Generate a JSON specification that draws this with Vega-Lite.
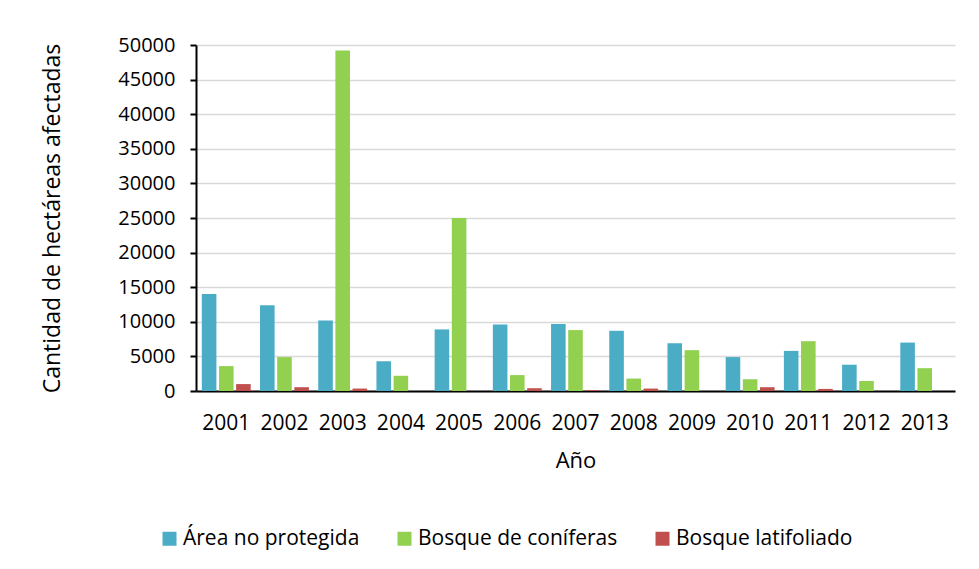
{
  "$schema": "https://vega.github.io/schema/vega-lite/v6.json",
  "autosize": {"type": "none"},
  "padding": {"left": 196, "top": 45, "right": 24, "bottom": 178},
  "width": 759,
  "height": 346,
  "background": "white",
  "config": {
    "font": "Open Sans",
    "view": {"stroke": null},
    "axis": {"labelFont": "Open Sans", "titleFont": "Open Sans", "labelColor": "#000", "titleColor": "#000", "titleFontWeight": "normal"}
  },
  "data": {
    "values": [
      {"year": "2001", "tipo": "Área no protegida", "ha": 14000},
      {"year": "2001", "tipo": "Bosque de coníferas", "ha": 3600},
      {"year": "2001", "tipo": "Bosque latifoliado", "ha": 1000},
      {"year": "2002", "tipo": "Área no protegida", "ha": 12400},
      {"year": "2002", "tipo": "Bosque de coníferas", "ha": 4900},
      {"year": "2002", "tipo": "Bosque latifoliado", "ha": 550},
      {"year": "2003", "tipo": "Área no protegida", "ha": 10200},
      {"year": "2003", "tipo": "Bosque de coníferas", "ha": 49200},
      {"year": "2003", "tipo": "Bosque latifoliado", "ha": 350},
      {"year": "2004", "tipo": "Área no protegida", "ha": 4300},
      {"year": "2004", "tipo": "Bosque de coníferas", "ha": 2200},
      {"year": "2004", "tipo": "Bosque latifoliado", "ha": 0},
      {"year": "2005", "tipo": "Área no protegida", "ha": 8900},
      {"year": "2005", "tipo": "Bosque de coníferas", "ha": 25000},
      {"year": "2005", "tipo": "Bosque latifoliado", "ha": 0},
      {"year": "2006", "tipo": "Área no protegida", "ha": 9600},
      {"year": "2006", "tipo": "Bosque de coníferas", "ha": 2300},
      {"year": "2006", "tipo": "Bosque latifoliado", "ha": 400},
      {"year": "2007", "tipo": "Área no protegida", "ha": 9700},
      {"year": "2007", "tipo": "Bosque de coníferas", "ha": 8800},
      {"year": "2007", "tipo": "Bosque latifoliado", "ha": 120},
      {"year": "2008", "tipo": "Área no protegida", "ha": 8700},
      {"year": "2008", "tipo": "Bosque de coníferas", "ha": 1800},
      {"year": "2008", "tipo": "Bosque latifoliado", "ha": 350},
      {"year": "2009", "tipo": "Área no protegida", "ha": 6900},
      {"year": "2009", "tipo": "Bosque de coníferas", "ha": 5900},
      {"year": "2009", "tipo": "Bosque latifoliado", "ha": 0},
      {"year": "2010", "tipo": "Área no protegida", "ha": 4900},
      {"year": "2010", "tipo": "Bosque de coníferas", "ha": 1700},
      {"year": "2010", "tipo": "Bosque latifoliado", "ha": 550},
      {"year": "2011", "tipo": "Área no protegida", "ha": 5800},
      {"year": "2011", "tipo": "Bosque de coníferas", "ha": 7200},
      {"year": "2011", "tipo": "Bosque latifoliado", "ha": 300},
      {"year": "2012", "tipo": "Área no protegida", "ha": 3800},
      {"year": "2012", "tipo": "Bosque de coníferas", "ha": 1450},
      {"year": "2012", "tipo": "Bosque latifoliado", "ha": 0},
      {"year": "2013", "tipo": "Área no protegida", "ha": 7000},
      {"year": "2013", "tipo": "Bosque de coníferas", "ha": 3300},
      {"year": "2013", "tipo": "Bosque latifoliado", "ha": 0}
    ]
  },
  "mark": {"type": "bar"},
  "encoding": {
    "x": {
      "field": "year", "type": "nominal",
      "scale": {"paddingInner": 0.16, "paddingOuter": 0.1},
      "axis": {"title": "Año", "labelAngle": 0, "labelFontSize": 21, "titleFontSize": 22, "ticks": false, "domainColor": "#000", "domainWidth": 2, "labelPadding": 21, "titlePadding": 17, "grid": false}
    },
    "xOffset": {"field": "tipo", "type": "nominal", "scale": {"paddingInner": 0.15}, "sort": ["Área no protegida", "Bosque de coníferas", "Bosque latifoliado"]},
    "y": {
      "field": "ha", "type": "quantitative",
      "scale": {"domain": [0, 50000], "nice": false},
      "axis": {"title": "Cantidad de hectáreas afectadas", "values": [0,5000,10000,15000,20000,25000,30000,35000,40000,45000,50000], "format": "d", "labelFontSize": 20, "titleFontSize": 23, "gridColor": "#d9d9d9", "gridWidth": 1.5, "domainColor": "#000", "domainWidth": 2, "tickColor": "#000", "tickWidth": 2, "tickSize": 6, "labelPadding": 15, "titlePadding": 53}
    },
    "color": {
      "field": "tipo", "type": "nominal",
      "scale": {"domain": ["Área no protegida", "Bosque de coníferas", "Bosque latifoliado"], "range": ["#4BACC6", "#92D050", "#C0504D"]},
      "legend": {"title": null, "orient": "none", "legendX": -37, "legendY": 483, "direction": "horizontal", "symbolType": "square", "symbolSize": 196, "symbolStrokeWidth": 0, "symbolOpacity": 1, "labelFontSize": 21, "labelLimit": 400, "labelColor": "#000", "columnPadding": 34, "labelOffset": 3}
    }
  }
}
